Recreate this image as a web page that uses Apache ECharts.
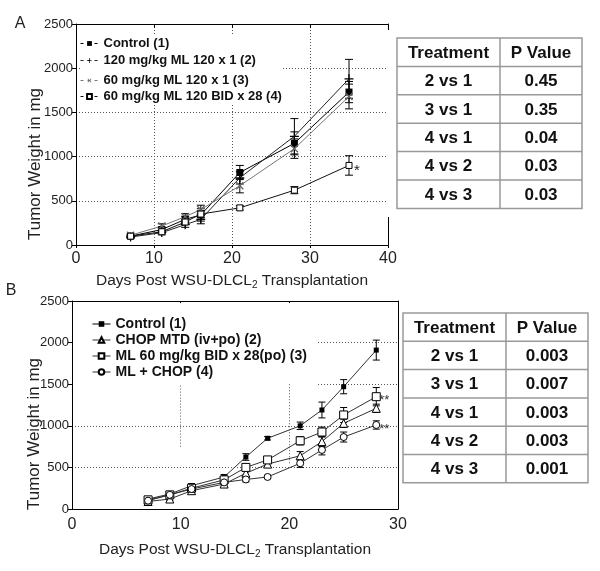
<!DOCTYPE html>
<html>
<head>
<meta charset="utf-8">
<script src="https://cdn.jsdelivr.net/npm/echarts@6/dist/echarts.min.js"></script>
<style>html,body{margin:0;padding:0;background:#fff;}#c{width:600px;height:571px;}</style>
</head>
<body>
<div id="c"></div>
<script>
// ---------- Panel A data ----------
const daysA = [7, 11, 14, 16, 21, 28, 35];
const ctrlA = [100, 175, 290, 340, 820, 1150, 1730];
const ctrlErrA = [15, 25, 35, 70, 80, 130, 120];
const ml120x1A = [90, 140, 230, 290, 760, 1230, 1880];
const ml120x1ErrA = [15, 25, 30, 50, 70, 200, 220];
const ml60x1A = [110, 215, 320, 400, 670, 1090, 1680];
const ml60x1ErrA = [15, 25, 35, 50, 80, 110, 140];
const ml60bidA = [100, 150, 260, 350, 420, 620, 900];
const ml60bidErrA = [10, 15, 25, 40, 25, 40, 110];
const seriesNamesA = ['Control (1)', '120 mg/kg ML 120 x 1 (2)', '60 mg/kg ML 120 x 1 (3)', '60 mg/kg ML 120 BID x 28 (4)'];

// ---------- Panel B data ----------
const daysB = [7, 9, 11, 14, 16, 18, 21, 23, 25, 28];
const ctrlB = [120, 180, 280, 385, 625, 850, 1000, 1190, 1470, 1910];
const ctrlErrB = [15, 20, 25, 30, 40, 20, 45, 95, 85, 120];
const chopB = [90, 120, 220, 300, 430, 540, 640, 810, 1030, 1210];
const chopErrB = [15, 15, 20, 25, 40, 25, 50, 60, 50, 50];
const mlB = [110, 170, 250, 350, 500, 590, 820, 925, 1130, 1350];
const mlErrB = [15, 20, 20, 25, 40, 30, 50, 60, 90, 110];
const comboB = [100, 170, 240, 320, 355, 385, 550, 710, 865, 1010];
const comboErrB = [15, 15, 20, 25, 30, 20, 50, 60, 60, 50];
const seriesNamesB = ['Control (1)', 'CHOP MTD (iv+po) (2)', 'ML 60 mg/kg BID x 28(po) (3)', 'ML + CHOP (4)'];

// ---------- Tables ----------
const tableHeader = ['Treatment', 'P Value'];
const comparisonsA = ['2 vs 1', '3 vs 1', '4 vs 1', '4 vs 2', '4 vs 3'];
const pValuesA = ['0.45', '0.35', '0.04', '0.03', '0.03'];
const comparisonsB = ['2 vs 1', '3 vs 1', '4 vs 1', '4 vs 2', '4 vs 3'];
const pValuesB = ['0.003', '0.007', '0.003', '0.003', '0.001'];

// ---------- Axis ticks ----------
const xMaxA = 40, xMaxB = 30, xStep = 10;
const yMax = 2500, yStep = 500;

const FF = '"Liberation Sans", Arial, sans-serif';
const zip = (xs, ys) => xs.map((x, i) => [x, ys[i]]);
const zip3 = (xs, ys, es) => xs.map((x, i) => [x, ys[i], es[i]]);
const plainNum = v => String(v);

function errSeries(xi, yi, data, cap) {
  return {
    type: 'custom', xAxisIndex: xi, yAxisIndex: yi, silent: true,
    encode: { x: 0, y: 1 },
    data: data,
    renderItem: function (params, api) {
      const x = api.value(0), y = api.value(1), e = api.value(2);
      const t = api.coord([x, y + e]);
      const b = api.coord([x, y - e]);
      const st = { stroke: '#000', lineWidth: 1 };
      return { type: 'group', children: [
        { type: 'line', shape: { x1: t[0], y1: t[1], x2: b[0], y2: b[1] }, style: st },
        { type: 'line', shape: { x1: t[0] - cap, y1: t[1], x2: t[0] + cap, y2: t[1] }, style: st },
        { type: 'line', shape: { x1: b[0] - cap, y1: b[1], x2: b[0] + cap, y2: b[1] }, style: st }
      ]};
    },
    z: 2
  };
}

const plusPath = 'path://M4.3,0H5.7V4.3H10V5.7H5.7V10H4.3V5.7H0V4.3H4.3Z';

function lineSeries(name, xi, yi, data, symbol, size, fill, lineColor, extra) {
  return Object.assign({
    type: 'line', name: name, xAxisIndex: xi, yAxisIndex: yi,
    data: data, symbol: symbol, symbolSize: size, showAllSymbol: true,
    lineStyle: { color: lineColor, width: 1 },
    itemStyle: { color: fill, borderColor: '#000', borderWidth: fill === '#fff' ? 1 : 0 },
    emphasis: { disabled: true }, z: 3
  }, extra || {});
}

function legendItem(name, left, top, fontSize, dashed, ih) {
  return {
    data: [name], left: left, top: top, padding: 0, itemWidth: 18, itemHeight: ih,
    selectedMode: false,
    lineStyle: dashed ? { type: [3, 4], width: 1 } : { width: 1 },
    textStyle: { fontWeight: 'bold', fontSize: fontSize, color: '#111', fontFamily: FF }
  };
}

function tableGraphic(x0, y0, w1, w2, rowH, comps, pvals) {
  const els = [];
  const W = w1 + w2, H = rowH * (comps.length + 1);
  const lineSt = { stroke: '#999', lineWidth: 1.5 };
  els.push({ type: 'rect', shape: { x: x0, y: y0, width: W, height: H }, style: { fill: '#fff', stroke: '#999', lineWidth: 1.5 }, z: 20 });
  for (let i = 1; i <= comps.length; i++) {
    els.push({ type: 'line', shape: { x1: x0, y1: y0 + i * rowH, x2: x0 + W, y2: y0 + i * rowH }, style: lineSt, z: 21 });
  }
  els.push({ type: 'line', shape: { x1: x0 + w1, y1: y0, x2: x0 + w1, y2: y0 + H }, style: lineSt, z: 21 });
  const rows = [tableHeader].concat(comps.map((c, i) => [c, pvals[i]]));
  rows.forEach((r, i) => {
    [[r[0], x0 + w1 / 2], [r[1], x0 + w1 + w2 / 2]].forEach(cell => {
      els.push({ type: 'text', x: cell[1], y: y0 + i * rowH + rowH / 2 + 1, z: 22,
        style: { text: cell[0], textAlign: 'center', textVerticalAlign: 'middle',
                 font: 'bold 17px ' + FF, fill: '#111' } });
    });
  });
  return els;
}

const axisLineBlack = { show: true, onZero: false, lineStyle: { color: '#000', width: 1 } };
const dotted = { show: true, lineStyle: { color: '#555', type: [1, 2], width: 1 } };
const xName = 'Days Post WSU-DLCL{sub|2} Transplantation';
const xNameStyle = { fontSize: 15.5, color: '#222', fontFamily: FF,
  rich: { sub: { fontSize: 10, color: '#222', fontFamily: FF, padding: [9, 0, 0, 0] } } };
const yLabel = { fontSize: 13, color: '#222', margin: 3, fontFamily: FF, formatter: plainNum };

const option = {
  animation: false,
  backgroundColor: '#fff',
  grid: [
    { left: 76, top: 24, width: 312, height: 221 },
    { left: 72, top: 301, width: 326, height: 208 }
  ],
  xAxis: [
    { gridIndex: 0, type: 'value', min: 0, max: xMaxA, interval: xStep, position: 'bottom',
      axisLine: axisLineBlack, axisTick: { show: true, length: 3, lineStyle: { color: '#000' } },
      axisLabel: { fontSize: 16, color: '#222', margin: 6, fontFamily: FF, formatter: plainNum },
      splitLine: dotted,
      name: xName, nameLocation: 'middle', nameGap: 26, nameTextStyle: xNameStyle },
    { gridIndex: 0, type: 'value', min: 0, max: xMaxA, interval: xStep, position: 'top',
      axisLine: axisLineBlack, axisTick: { show: true, inside: true, length: 4, lineStyle: { color: '#000' } },
      axisLabel: { show: false }, splitLine: { show: false } },
    { gridIndex: 1, type: 'value', min: 0, max: xMaxB, interval: xStep, position: 'bottom',
      axisLine: axisLineBlack, axisTick: { show: false },
      axisLabel: { fontSize: 16, color: '#222', margin: 8, fontFamily: FF, formatter: plainNum },
      splitLine: { show: false },
      name: xName, nameLocation: 'middle', nameGap: 31, nameTextStyle: xNameStyle },
    { gridIndex: 1, type: 'value', min: 0, max: xMaxB, interval: xStep, position: 'top',
      axisLine: axisLineBlack, axisTick: { show: true, inside: true, length: 4, lineStyle: { color: '#000' } },
      axisLabel: { show: false }, splitLine: { show: false } }
  ],
  yAxis: [
    { gridIndex: 0, type: 'value', min: 0, max: yMax, interval: yStep, position: 'left',
      axisLine: axisLineBlack, axisTick: { show: true, length: 4, lineStyle: { color: '#000' } },
      axisLabel: yLabel, splitLine: dotted },
    { gridIndex: 0, type: 'value', min: 0, max: yMax, interval: yStep, position: 'right',
      axisLine: axisLineBlack, axisTick: { show: false }, axisLabel: { show: false }, splitLine: { show: false } },
    { gridIndex: 1, type: 'value', min: 0, max: yMax, interval: yStep, position: 'left',
      axisLine: axisLineBlack, axisTick: { show: true, length: 4, lineStyle: { color: '#000' } },
      axisLabel: yLabel, splitLine: dotted },
    { gridIndex: 1, type: 'value', min: 0, max: yMax, interval: yStep, position: 'right',
      axisLine: axisLineBlack, axisTick: { show: false }, axisLabel: { show: false }, splitLine: { show: false } }
  ],
  legend: [
    legendItem(seriesNamesA[0], 80, 37, 13, true, 6),
    legendItem(seriesNamesA[1], 80, 54, 13, true, 6),
    legendItem(seriesNamesA[2], 80, 74, 13, true, 6),
    legendItem(seriesNamesA[3], 80, 90, 13, true, 6),
    legendItem(seriesNamesB[0], 92, 317, 14, false, 7),
    legendItem(seriesNamesB[1], 92, 333, 14, false, 7),
    legendItem(seriesNamesB[2], 92, 349, 14, false, 7),
    legendItem(seriesNamesB[3], 92, 365, 14, false, 7)
  ],
  series: [
    errSeries(0, 0, zip3(daysA, ctrlA, ctrlErrA), 4),
    errSeries(0, 0, zip3(daysA, ml120x1A, ml120x1ErrA), 4),
    errSeries(0, 0, zip3(daysA, ml60x1A, ml60x1ErrA), 4),
    errSeries(0, 0, zip3(daysA, ml60bidA, ml60bidErrA), 4),
    lineSeries(seriesNamesA[0], 0, 0, zip(daysA, ctrlA), 'rect', 7, '#000', '#000'),
    lineSeries(seriesNamesA[1], 0, 0, zip(daysA, ml120x1A), plusPath, 9, '#000', '#222'),
    lineSeries(seriesNamesA[2], 0, 0, zip(daysA, ml60x1A), plusPath, 10, '#666', '#777', { symbolRotate: 45 }),
    lineSeries(seriesNamesA[3], 0, 0, zip(daysA, ml60bidA), 'rect', 6, '#fff', '#111', {
      endLabel: { show: true, formatter: '*', fontSize: 15, color: '#222', fontFamily: FF, distance: 5, offset: [0, 5] } }),

    errSeries(2, 2, zip3(daysB, ctrlB, ctrlErrB), 3.5),
    errSeries(2, 2, zip3(daysB, chopB, chopErrB), 3.5),
    errSeries(2, 2, zip3(daysB, mlB, mlErrB), 3.5),
    errSeries(2, 2, zip3(daysB, comboB, comboErrB), 3.5),
    lineSeries(seriesNamesB[0], 2, 2, zip(daysB, ctrlB), 'rect', 5, '#000', '#333', {
      markLine: { silent: true, symbol: 'none', label: { show: false },
        lineStyle: { color: '#555', type: [1, 2], width: 1 },
        data: [ [{ coord: [10, 750] }, { coord: [10, 1500] }], [{ coord: [20, 550] }, { coord: [20, 1500] }] ] } }),
    lineSeries(seriesNamesB[1], 2, 2, zip(daysB, chopB), 'triangle', 8, '#fff', '#333'),
    lineSeries(seriesNamesB[2], 2, 2, zip(daysB, mlB), 'rect', 8, '#fff', '#333', {
      endLabel: { show: true, formatter: '**', fontSize: 13, color: '#333', fontFamily: FF, distance: 3, offset: [0, 4] } }),
    lineSeries(seriesNamesB[3], 2, 2, zip(daysB, comboB), 'circle', 7, '#fff', '#333', {
      endLabel: { show: true, formatter: '**', fontSize: 13, color: '#333', fontFamily: FF, distance: 3, offset: [0, 4] } })
  ],
  graphic: [].concat(
    [
      { type: 'rect', shape: { x: 80, y: 36, width: 203, height: 69 }, style: { fill: '#fff' }, z: 3 },
      { type: 'rect', shape: { x: 74, y: 303, width: 244, height: 86 }, style: { fill: '#fff' }, z: 3 },
      { type: 'rect', shape: { x: 387, y: 30, width: 213, height: 187 }, style: { fill: '#fff' }, z: 19 },
      { type: 'text', x: 35, y: 164, rotation: Math.PI / 2, z: 5,
        style: { text: 'Tumor Weight in mg', textAlign: 'center', textVerticalAlign: 'middle', font: '17px ' + FF, fill: '#222' } },
      { type: 'text', x: 34, y: 434, rotation: Math.PI / 2, z: 5,
        style: { text: 'Tumor Weight in mg', textAlign: 'center', textVerticalAlign: 'middle', font: '17px ' + FF, fill: '#222' } },
      { type: 'text', x: 20, y: 24, z: 5,
        style: { text: 'A', textAlign: 'center', textVerticalAlign: 'middle', font: '16px ' + FF, fill: '#222' } },
      { type: 'text', x: 11, y: 291, z: 5,
        style: { text: 'B', textAlign: 'center', textVerticalAlign: 'middle', font: '16px ' + FF, fill: '#222' } }
    ],
    tableGraphic(397, 38, 103, 82, 28.4, comparisonsA, pValuesA),
    tableGraphic(403, 313, 103, 82, 28.3, comparisonsB, pValuesB)
  )
};

const chart = echarts.init(document.getElementById('c'), null, { renderer: 'canvas' });
chart.setOption(option);
</script>
</body>
</html>
